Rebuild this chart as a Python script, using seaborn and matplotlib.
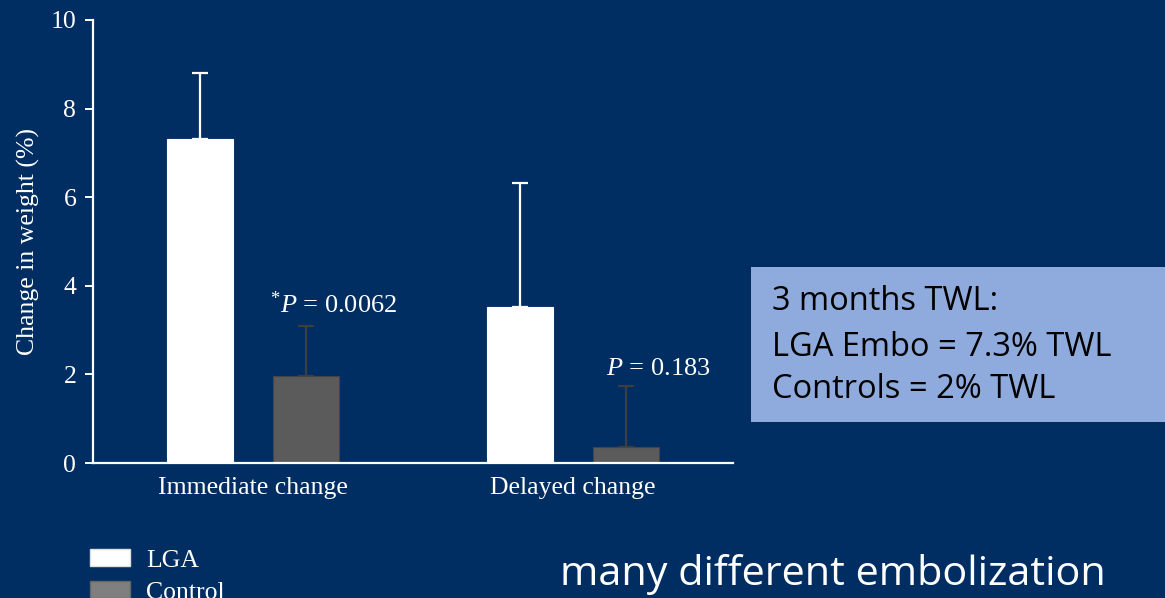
import matplotlib
matplotlib.use("Agg")
import matplotlib.pyplot as plt
import seaborn as sns
import pandas as pd
from matplotlib.patches import Rectangle

# ---- data ----
categories = ["Immediate change", "Delayed change"]
groups = ["LGA", "Control"]
lga_values = [7.31, 3.52]
control_values = [1.96, 0.36]
lga_err = [1.49, 2.80]
control_err = [1.13, 1.38]
p_labels = [r"$^{*}P$ = 0.0062", r"$P$ = 0.183"]
y_ticks = [0, 2, 4, 6, 8, 10]
box_lines = ["3 months TWL:", "LGA Embo = 7.3% TWL", "Controls = 2% TWL"]
footer_text = "many different embolization"

BG = "#002E62"
BOX = "#8FAADC"
bar_colors = {"LGA": "#FFFFFF", "Control": "#5B5B5B"}
err_colors = {"LGA": "#FFFFFF", "Control": "#3E3E3E"}

sns.set_theme(style="ticks")
plt.rcParams["font.family"] = ["Liberation Serif", "DejaVu Serif"]
plt.rcParams["mathtext.fontset"] = "custom"
plt.rcParams["mathtext.rm"] = "Liberation Serif"
plt.rcParams["mathtext.it"] = "Liberation Serif:italic"

df = pd.DataFrame({
    "category": categories * 2,
    "group": ["LGA"] * len(categories) + ["Control"] * len(categories),
    "value": lga_values + control_values,
})
errs = {"LGA": lga_err, "Control": control_err}

W, H = 1165, 598
fig = plt.figure(figsize=(W / 100, H / 100), dpi=100, facecolor=BG)
ax = fig.add_axes([93 / W, 1 - 463 / H, (733 - 93) / W, (463 - 20) / H])
ax.set_facecolor(BG)

sns.barplot(data=df, x="category", y="value", hue="group", hue_order=groups,
            order=categories, palette=bar_colors, width=0.667, gap=0.38,
            errorbar=None, saturation=1, ax=ax, legend=True)

for cont, g in zip(ax.containers, groups):
    for bar, e in zip(cont, errs[g]):
        bar.set_edgecolor("#FFFFFF" if g == "LGA" else "#444444")
        bar.set_linewidth(0.8)
        bar.set_zorder(3)
        x = bar.get_x() + bar.get_width() / 2
        h = bar.get_height()
        ax.errorbar([x], [h], yerr=[[0], [e]], fmt="none", ecolor=err_colors[g],
                    elinewidth=1.6, capsize=6, capthick=1.6, zorder=2)

# annotations
text_color = "#FFFFFF"
ax.text(0.053, 3.57, p_labels[0], ha="left", va="center", fontsize=19, color=text_color)
ax.text(1.103, 2.12, p_labels[1], ha="left", va="center", fontsize=19, color=text_color)

ax.set_xlim(-0.5, 1.5)
ax.set_ylim(0, 10)
ax.set_yticks(y_ticks)
ax.set_xlabel("")
ax.set_ylabel("Change in weight (%)", fontsize=18.5, color=text_color)
ax.yaxis.set_label_coords(-0.083, 0.5)
for s in ["top", "right"]:
    ax.spines[s].set_visible(False)
for s in ["left", "bottom"]:
    ax.spines[s].set_color("#FFFFFF")
    ax.spines[s].set_linewidth(1.6)
    ax.spines[s].set_zorder(4)
ax.tick_params(axis="y", colors=text_color, labelsize=18.5, length=6, width=1.4, pad=6)
ax.tick_params(axis="x", colors=text_color, labelsize=18.5, length=0, pad=10)

# legend
handles, labels = ax.get_legend_handles_labels()
ax.get_legend().remove()
leg = fig.legend(handles, labels, loc="upper left", bbox_to_anchor=(90 / W, 1 - 549 / H),
                 frameon=False, fontsize=18.5, labelcolor=text_color, borderpad=0,
                 borderaxespad=0, handlelength=1.56, handleheight=0.66,
                 handletextpad=0.62, labelspacing=0.36)
for hnd, lab in zip(leg.legend_handles, labels):
    hnd.set_facecolor("#FFFFFF" if lab == "LGA" else "#7F7F7F")
    hnd.set_edgecolor("#DDDDDD" if lab == "LGA" else "#666666")

# info box
fig.patches.append(Rectangle((751 / W, 1 - 422 / H), (W - 751) / W + 0.01, (422 - 267) / H,
                             transform=fig.transFigure, facecolor=BOX, edgecolor="none", zorder=0))
for line, yc in zip(box_lines, [301, 347, 390]):
    fig.text(772 / W, 1 - yc / H, line, ha="left", va="center", fontsize=23.5,
             family=["Open Sans", "DejaVu Sans"], color="#000000")

fig.text(560 / W, 1 - 585 / H, footer_text, ha="left", va="baseline", fontsize=29.8,
         family=["Open Sans", "DejaVu Sans"], color="#FFFFFF")

fig.savefig("out.png", dpi=100, facecolor=BG)
